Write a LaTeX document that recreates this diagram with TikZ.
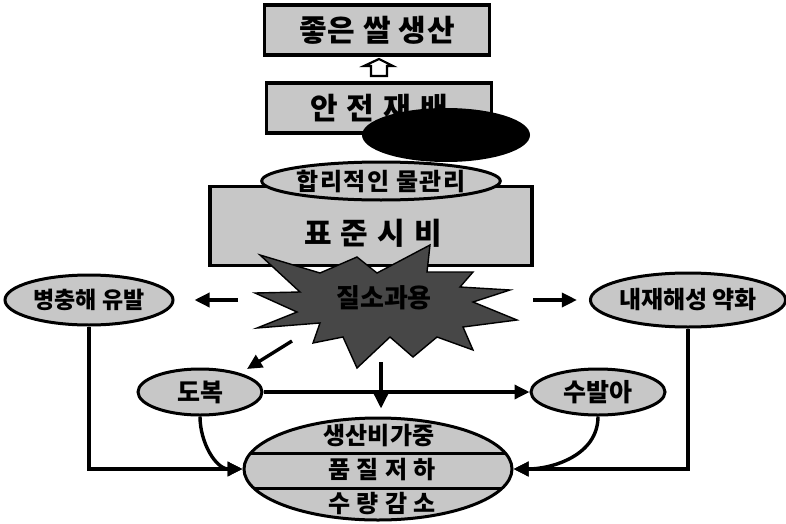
\documentclass[tikz,border=0pt]{standalone}
\usepackage{fontspec}
\setmainfont{Noto Sans CJK KR}
\usetikzlibrary{shapes.geometric,arrows.meta}
\begin{document}
\begin{tikzpicture}[x=1pt,y=-1pt,
  gbox/.style={draw, line width=3.4pt, fill=black!22, inner sep=0pt},
  gell/.style={ellipse, draw, line width=3pt, fill=black!22, inner sep=0pt},
  lab/.style={font=\bfseries\fontsize{#1}{#1}\selectfont, inner sep=0pt},
  lab/.default=24,
  arr/.style={line width=3.4pt, -{Triangle[length=15pt,width=14pt]}}]
\useasboundingbox (0,0) rectangle (786,524);
\fill[white] (0,0) rectangle (786,524);

% top boxes
\node[gbox, minimum width=225pt, minimum height=50pt, lab=30] (good) at (377,30) {\addfontfeature{LetterSpace=3}좋은 쌀 생산};
\node[gbox, minimum width=225pt, minimum height=50pt, lab=30] (safe) at (379,108) {\addfontfeature{LetterSpace=30}안전재배};
\draw[line width=2.2pt, fill=white] (379,59) coordinate (uptip) -- (364,66) -- (371,66) -- (371,76) -- (387,76) -- (387,66) -- (393,66) -- cycle;
\node[ellipse, fill=black, minimum width=168pt, minimum height=54pt, inner sep=0pt] (blk) at (446,135) {};

% standard fertiliser box
\node[gbox, minimum width=322pt, minimum height=79pt] (std) at (371,226) {};
\node[lab=30] (stdlab) at (373,233) {\addfontfeature{LetterSpace=30}표준시비};
\node[gell, minimum width=218pt, minimum height=38pt, lab=24] (water) at (381,181) {\addfontfeature{LetterSpace=6}합리적인 물관리};

% starburst
\draw[line width=1.4pt, fill=black!72]
  (260,255) -- (320,273) -- (357,257) -- (377,273) -- (430,245) -- (427,272)
  -- (473,272) -- (460,287) -- (510,290) -- (473,302) -- (517,320) -- (463,327)
  -- (473,350) -- (437,337) -- (413,357) -- (390,337) -- (357,368) -- (343,337)
  -- (313,343) -- (320,323) -- (257,328) -- (297,312) -- (255,293) -- (300,292) -- cycle;
\node[lab=26, text=black] (star) at (384,298) {질소과용};

% side ellipses
\node[gell, minimum width=168pt, minimum height=50pt, lab=23] (pest) at (89,300) {병충해 유발};
\node[gell, minimum width=188pt, minimum height=54pt, lab=24] (weak) at (688,300) {내재해성 약화};
\node[gell, minimum width=124pt, minimum height=46pt, lab=25] (lodg) at (200,392) {도복};
\node[gell, minimum width=134pt, minimum height=46pt, lab=25] (sprout) at (598,392) {수발아};

% bottom ellipse
\node[gell, minimum width=268pt, minimum height=102pt] (res) at (378,469) {};
\begin{scope}
  \clip (378,469) ellipse [x radius=133pt, y radius=50pt];
  \draw[line width=3pt] (240,453) -- (520,453);
  \draw[line width=3pt] (240,488) -- (520,488);
\end{scope}
\node[lab=24] (r1) at (379,436) {생산비가중};
\node[lab=24] (r2) at (382,470) {\addfontfeature{LetterSpace=25}품질저하};
\node[lab=24] (r3) at (382,504) {\addfontfeature{LetterSpace=25}수량감소};

% connectors
\coordinate (sL) at (238,300);
\coordinate (sR) at (533,300);
\coordinate (sD) at (292,341);
\coordinate (dD) at (247,369);
\coordinate (sV) at (381,362);
\draw[arr, shorten >=20pt] (sL) -- (pest.east);
\draw[arr, shorten >=12pt] (sR) -- (weak.west);
\draw[arr] (sD) -- (dD);
\draw[arr, shorten >=8pt] (sV) -- (res.north -| sV);
\draw[arr] (lodg.east) -- (sprout.west);
\draw[arr] (pest.south) |- (res.west);
\draw[arr] (weak.south) |- (res.east);
\draw[arr] (lodg.south) to[out=270, in=180] (res.west);
\draw[arr] (sprout.south) to[out=270, in=0] (res.east);
\end{tikzpicture}
\end{document}
